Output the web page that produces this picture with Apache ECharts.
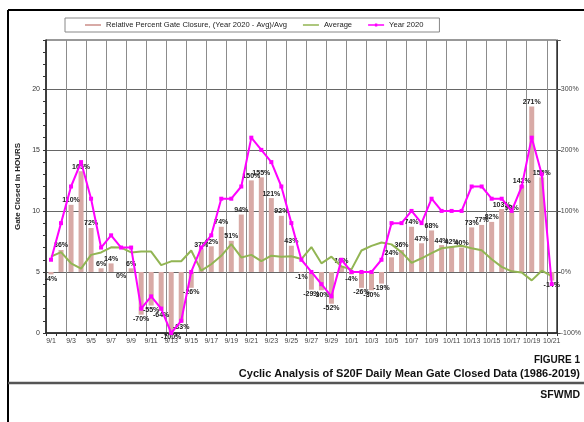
<!DOCTYPE html>
<html>
<head>
<meta charset="utf-8">
<script src="https://cdn.jsdelivr.net/npm/echarts@6/dist/echarts.min.js"></script>
<style>
html,body{margin:0;padding:0;background:#fff;}
#chart{width:584px;height:422px;}
</style>
</head>
<body>
<div id="chart"></div>
<script>
const categories = ['9/1','9/2','9/3','9/4','9/5','9/6','9/7','9/8','9/9','9/10',
  '9/11','9/12','9/13','9/14','9/15','9/16','9/17','9/18','9/19','9/20',
  '9/21','9/22','9/23','9/24','9/25','9/26','9/27','9/28','9/29','9/30',
  '10/1','10/2','10/3','10/4','10/5','10/6','10/7','10/8','10/9','10/10',
  '10/11','10/12','10/13','10/14','10/15','10/16','10/17','10/18','10/19','10/20','10/21'];

const relativePercent = [-4,36,110,165,72,6,14,0,6,-70,
  -55,-64,-100,-83,-26,37,42,74,51,94,
  150,155,121,92,43,-1,-29,-30,-52,10,
  -4,-26,-30,-19,24,36,74,47,68,44,
  42,40,73,77,82,103,98,142,271,155,-14];

const averageHours = [6.25,6.62,5.71,5.28,6.40,6.60,7.02,7.0,6.6,6.67,
  6.67,5.56,5.87,5.88,6.76,5.11,5.63,6.32,7.28,6.19,
  6.4,5.88,6.33,6.25,6.29,6.06,7.04,5.71,6.25,5.45,
  5.21,6.76,7.14,7.41,7.26,6.62,5.75,6.12,6.55,6.94,
  7.04,7.14,6.94,6.78,6.04,5.42,5.05,4.96,4.31,5.1,4.65];

const year2020Hours = [6,9,12,14,11,7,8,7,7,2,
  3,2,0,1,5,7,8,11,11,12,
  16,15,14,12,9,6,5,4,3,6,
  5,5,5,6,9,9,10,9,11,10,
  10,10,12,12,11,11,10,12,16,13,4];

const leftTickLabels = [0,5,10,15,20];
const rightTickLabels = [-100,0,100,200,300];

const barName = 'Relative Percent Gate Closure, (Year 2020 - Avg)/Avg';
const FONT = '"Liberation Sans", Arial, sans-serif';

const chart = echarts.init(document.getElementById('chart'), null, {renderer:'canvas'});
chart.setOption({
  backgroundColor: '#fff',
  animation: false,
  textStyle: {fontFamily: FONT},
  legend: {
    left: 65, top: 18,
    padding: [3, 16, 3, 20],
    itemGap: 16,
    itemWidth: 16, itemHeight: 7,
    borderColor: '#888', borderWidth: 1,
    textStyle: {fontSize: 7.6, color: '#222', fontFamily: FONT},
    data: [
      {name: barName, icon: 'path://M0,0L20,0M0,2.2L20,2.2L20,4.8L0,4.8ZM0,7L20,7'},
      {name: 'Average', icon: 'path://M0,0L20,0M0,2.6L20,2.6L20,4.4L0,4.4ZM0,7L20,7'},
      {name: 'Year 2020', icon: 'path://M0,0L20,0M0,2.6L8.5,2.6L8.5,1.5L11.5,1.5L11.5,2.6L20,2.6L20,4.4L11.5,4.4L11.5,5.5L8.5,5.5L8.5,4.4L0,4.4ZM0,7L20,7'}
    ]
  },
  grid: {
    left: 46, top: 40, width: 512, bottom: 89,
    show: true, borderColor: '#333', borderWidth: 1, backgroundColor: 'transparent'
  },
  xAxis: {
    type: 'category',
    data: categories,
    boundaryGap: true,
    axisLine: {lineStyle: {color: '#222', width: 1.5}},
    axisTick: {show: true, interval: 0, length: 3, lineStyle: {color: '#333'}},
    axisLabel: {interval: 1, fontSize: 7, color: '#444', margin: 5, fontFamily: FONT},
    splitLine: {show: true, interval: 1, lineStyle: {color: '#8c8c8c', width: 1}}
  },
  yAxis: [
    {
      type: 'value', min: 0, max: 24, interval: 1,
      name: 'Gate Closed in HOURS', nameLocation: 'middle', nameGap: 19,
      nameTextStyle: {fontSize: 8, fontWeight: 'bold', color: '#222', fontFamily: FONT},
      axisLine: {show: true, lineStyle: {color: '#222', width: 1.5}},
      axisTick: {show: true, length: 3, lineStyle: {color: '#333'}},
      axisLabel: {fontSize: 7, color: '#333', margin: 6, fontFamily: FONT,
        formatter: v => leftTickLabels.indexOf(v) >= 0 ? String(v) : ''},
      splitLine: {show: true, lineStyle: {color: ['#666','rgba(0,0,0,0)','rgba(0,0,0,0)','rgba(0,0,0,0)','rgba(0,0,0,0)'], width: 1}}
    },
    {
      type: 'value', min: -100, max: 380, interval: 100, position: 'right',
      axisLine: {show: true, lineStyle: {color: '#333', width: 1}},
      axisTick: {show: true, length: 4, lineStyle: {color: '#555'}},
      axisLabel: {fontSize: 7, color: '#444', margin: 4, fontFamily: FONT,
        formatter: v => rightTickLabels.indexOf(v) >= 0 ? v + '%' : ''},
      splitLine: {show: false}
    }
  ],
  series: [
    {
      name: barName, type: 'bar', yAxisIndex: 1,
      data: relativePercent,
      barWidth: 5,
      itemStyle: {color: '#d8aaa6'},
      label: {show: true, position: 'outside', distance: 1, fontSize: 7, fontWeight: 'bold',
        color: '#222', fontFamily: FONT, formatter: p => p.value + '%'},
      z: 2
    },
    {
      name: 'Average', type: 'line', yAxisIndex: 0,
      data: averageHours,
      symbol: 'none',
      lineStyle: {color: '#92b553', width: 2},
      itemStyle: {color: '#92b553'},
      z: 3
    },
    {
      name: 'Year 2020', type: 'line', yAxisIndex: 0,
      data: year2020Hours,
      symbol: 'rect', symbolSize: 4, showSymbol: true,
      lineStyle: {color: '#ff00ff', width: 2},
      itemStyle: {color: '#ff00ff'},
      z: 4
    }
  ],
  graphic: [
    {type: 'line', shape: {x1: 8, y1: 10, x2: 584, y2: 10}, style: {stroke: '#000', lineWidth: 2}},
    {type: 'line', shape: {x1: 8, y1: 10, x2: 8, y2: 422}, style: {stroke: '#000', lineWidth: 2}},
    {type: 'line', shape: {x1: 8, y1: 383, x2: 584, y2: 383}, style: {stroke: '#555', lineWidth: 2.5}},
    {type: 'text', right: 4, top: 355, style: {text: 'FIGURE 1', font: 'bold 10px ' + FONT, fill: '#111'}},
    {type: 'text', right: 4, top: 368, style: {text: 'Cyclic Analysis of S20F Daily Mean Gate Closed Data (1986-2019)', font: 'bold 11px ' + FONT, fill: '#111'}},
    {type: 'text', right: 4, top: 390, style: {text: 'SFWMD', font: 'bold 10.5px ' + FONT, fill: '#111'}}
  ]
});
</script>
</body>
</html>
